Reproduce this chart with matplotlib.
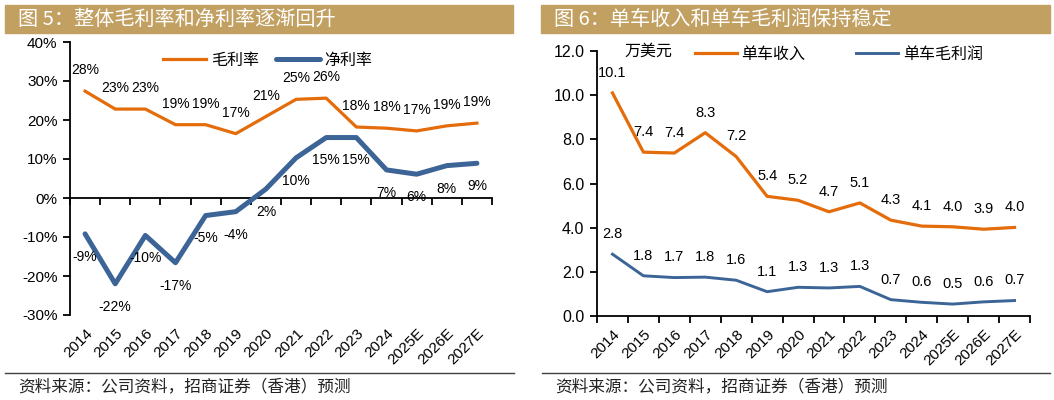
import numpy as np
import matplotlib
matplotlib.use("Agg")
import matplotlib.pyplot as plt
from matplotlib.patches import Rectangle
from matplotlib.lines import Line2D

plt.rcParams['font.family'] = ['Liberation Sans', 'Noto Sans CJK SC', 'DejaVu Sans']
plt.rcParams['axes.unicode_minus'] = False

# ---- data ----
years = ["2014", "2015", "2016", "2017", "2018", "2019", "2020", "2021",
         "2022", "2023", "2024", "2025E", "2026E", "2027E"]

gross_margin = [27.4, 22.8, 22.8, 18.8, 18.8, 16.5, 20.9, 25.3,
                25.6, 18.2, 17.9, 17.2, 18.5, 19.2]
gross_labels = [28, 23, 23, 19, 19, 17, 21, 25, 26, 18, 18, 17, 19, 19]

net_margin = [-9.2, -22.0, -9.6, -16.6, -4.5, -3.5, 2.3, 10.3,
              15.5, 15.5, 7.2, 6.1, 8.3, 8.9]
net_labels = [-9, -22, -10, -17, -5, -4, 2, 10, 15, 15, 7, 6, 8, 9]

rev_per_car = [10.1, 7.42, 7.38, 8.3, 7.22, 5.42, 5.24, 4.72,
               5.12, 4.34, 4.07, 4.04, 3.93, 4.01]
profit_per_car = [2.8, 1.82, 1.74, 1.76, 1.62, 1.1, 1.3, 1.27,
                  1.34, 0.74, 0.62, 0.54, 0.64, 0.7]

title_left = "图 5：整体毛利率和净利率逐渐回升"
title_right = "图 6：单车收入和单车毛利润保持稳定"
source_text = "资料来源：公司资料，招商证券（香港）预测"

ORANGE = "#E46C0A"
BLUE = "#3C6497"
GOLD = "#C2A062"
CJK = ['Noto Sans CJK SC', 'DejaVu Sans']

W, H = 1054, 400
fig = plt.figure(figsize=(W / 100, H / 100), dpi=100)


def fx(px):
    return px / W


def fy(py):
    return 1 - py / H


def header(x0, x1, text):
    fig.patches.append(Rectangle((fx(x0), fy(33)), fx(x1 - x0), fy(5) - fy(33),
                                 transform=fig.transFigure, color=GOLD, zorder=0))
    fig.text(fx(x0 + 13), fy(19), text, color="white", fontsize=14.5,
             va="center", ha="left", family=CJK)


def footer(x0, x1, tx):
    fig.add_artist(Line2D([fx(x0), fx(x1)], [fy(373), fy(373)], color="#404040",
                          lw=1.0, transform=fig.transFigure))
    fig.text(fx(tx), fy(387), source_text, fontsize=12, va="center", ha="left",
             color="#222222", family=CJK)


def style_axis(ax, ysize):
    for s in ["top", "right"]:
        ax.spines[s].set_visible(False)
    ax.spines["left"].set_linewidth(1.3)
    ax.spines["bottom"].set_linewidth(1.3)
    ax.tick_params(axis="y", direction="out", length=5, width=1.3, pad=4, labelsize=ysize)
    ax.tick_params(axis="x", which="major", length=0, pad=8, labelsize=11)
    ax.set_xticks(np.arange(len(years)))
    ax.set_xticklabels(years, rotation=45, ha="right", va="top", rotation_mode="anchor")
    ax.set_xlim(-0.5, len(years) - 0.5)


x = np.arange(len(years))

# ---- left chart ----
header(5, 513, title_left)
ax1 = fig.add_axes([fx(70), fy(315), fx(492 - 70), fy(42) - fy(315)])
style_axis(ax1, 11)
ax1.set_ylim(-30, 40)
ax1.set_yticks(np.arange(-30, 41, 10))
ax1.set_yticklabels([f"{v}%" for v in range(-30, 41, 10)])
ax1.spines["bottom"].set_visible(False)

zero_axis = ax1.secondary_xaxis(30 / 70)
zero_axis.set_xticks(np.arange(-0.5, len(years), 1.0))
zero_axis.set_xticklabels([])
zero_axis.tick_params(direction="out", length=5, width=1.3)
zero_axis.spines["bottom"].set_linewidth(1.3)

ax1.plot(x, gross_margin, color=ORANGE, lw=2.3, label="毛利率")
ax1.plot(x, net_margin, color=BLUE, lw=3.6, label="净利率", solid_capstyle="round")

for xi, v, lab in zip(x, gross_margin, gross_labels):
    ax1.annotate(f"{lab}%", (xi, v), xytext=(0, 15), textcoords="offset points",
                 ha="center", va="center", fontsize=10)
for xi, v, lab in zip(x, net_margin, net_labels):
    ax1.annotate(f"{lab}%", (xi, v), xytext=(0, -16.5), textcoords="offset points",
                 ha="center", va="center", fontsize=10)

ax1.legend(loc="center left", bbox_to_anchor=((163 - 70) / 422, (315 - 60) / 273),
           ncol=2, frameon=False, handlelength=2.7,
           handletextpad=0.3, columnspacing=1.1, borderpad=0, borderaxespad=0,
           prop={"family": CJK, "size": 11.5})

footer(5, 514, 18)

# ---- right chart ----
header(541, 1050, title_right)
ax2 = fig.add_axes([fx(597), fy(316), fx(1030 - 597), fy(51) - fy(316)])
style_axis(ax2, 11.5)
ax2.set_ylim(0, 12)
ax2.set_yticks(np.arange(0, 12.1, 2))
ax2.set_yticklabels([f"{v:.1f}" for v in np.arange(0, 12.1, 2)])
ax2.set_xticks(np.arange(-0.5, len(years), 1.0), minor=True)
ax2.tick_params(axis="x", which="minor", direction="out", length=5, width=1.3)

ax2.plot(x, rev_per_car, color=ORANGE, lw=2.3, label="单车收入")
ax2.plot(x, profit_per_car, color=BLUE, lw=2.1, label="单车毛利润")

for series in (rev_per_car, profit_per_car):
    for xi, v in zip(x, series):
        ax2.annotate(f"{v:.1f}", (xi, v), xytext=(0, 14.5), textcoords="offset points",
                     ha="center", va="center", fontsize=10.5)

ax2.legend(loc="center left", bbox_to_anchor=((695 - 597) / 433, (316 - 54) / 265),
           ncol=2, frameon=False, handlelength=2.6,
           handletextpad=0.3, columnspacing=3.2, borderpad=0, borderaxespad=0,
           prop={"family": CJK, "size": 11.5})
fig.text(fx(624), fy(51), "万美元", fontsize=11.5, va="center", ha="left", family=CJK)

footer(542, 1050, 555)

fig.savefig("out.png", dpi=100)
